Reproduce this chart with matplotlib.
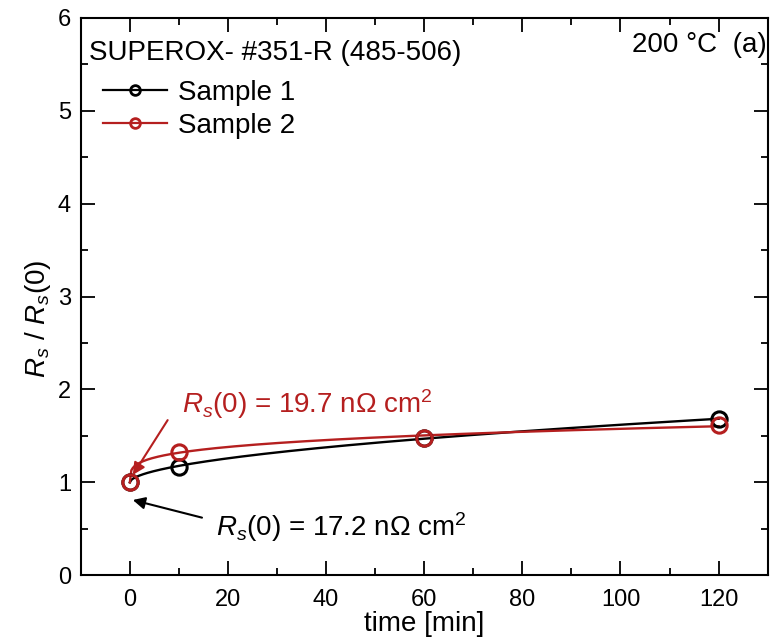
import numpy as np
import matplotlib
matplotlib.use("Agg")
import matplotlib.pyplot as plt
from matplotlib.ticker import MultipleLocator

# measured points: time [min] vs normalised surface resistance
time_min = [0, 10, 60, 120]
sample1 = [1.00, 1.17, 1.48, 1.68]
sample2 = [1.00, 1.33, 1.48, 1.62]

RED = "#b51f1f"

plt.rcParams['font.family'] = ['Liberation Sans', 'DejaVu Sans']
plt.rcParams['mathtext.fontset'] = 'custom'
plt.rcParams['mathtext.rm'] = 'Liberation Sans'
plt.rcParams['mathtext.it'] = 'Liberation Sans:italic'


def power_fit(t, y):
    """Least-squares fit of y = 1 + a * t**b, scanning the exponent b."""
    t = np.asarray(t, float)
    y = np.asarray(y, float) - 1
    best = None
    for b in np.linspace(0.05, 1.0, 400):
        tb = t ** b
        a = np.sum(tb * y) / np.sum(tb * tb)
        err = np.sum((a * tb - y) ** 2)
        if best is None or err < best[0]:
            best = (err, a, b)
    _, a, b = best
    tt = np.linspace(0, t.max(), 400)
    return tt, 1 + a * tt ** b


fig = plt.figure(figsize=(7.77, 6.42), dpi=100)
ax = fig.add_axes([0.104, 0.104, 0.884, 0.868])

for y, col, lab in [(sample1, "black", "Sample 1"), (sample2, RED, "Sample 2")]:
    tt, yy = power_fit(time_min, y)
    ax.plot(tt, yy, color=col, lw=1.7, zorder=2)
    ax.plot(time_min, y, "o", mfc="none", mec=col, mew=2.2, ms=11, zorder=3)
    # legend handle: line with open circle
    ax.plot([], [], "-o", color=col, mfc="none", mec=col, mew=2, ms=7, lw=1.6, label=lab)

ax.set_xlim(-10, 130)
ax.set_ylim(0, 6)
ax.xaxis.set_major_locator(MultipleLocator(20))
ax.xaxis.set_minor_locator(MultipleLocator(10))
ax.yaxis.set_major_locator(MultipleLocator(1))
ax.yaxis.set_minor_locator(MultipleLocator(0.5))
ax.tick_params(which="both", direction="in", top=True, right=True, width=1.3, labelsize=17)
ax.tick_params(which="major", length=10)
ax.tick_params(which="minor", length=5)
ax.tick_params(axis="x", which="major", pad=10)
ax.tick_params(axis="y", which="major", pad=7)
for s in ax.spines.values():
    s.set_linewidth(1.5)

ax.set_xlabel("time [min]", fontsize=20, labelpad=0)
ax.set_ylabel(r"$R_s$ / $R_s$(0)", fontsize=20)
ax.yaxis.set_label_coords(-0.04, 0.46)

ax.text(0.012, 0.96, "SUPEROX- #351-R (485-506)", transform=ax.transAxes,
        fontsize=20, va="top", ha="left")
ax.text(0.998, 0.975, "200 °C  (a)", transform=ax.transAxes,
        fontsize=20, va="top", ha="right")

ax.legend(loc="upper left", bbox_to_anchor=(0.0, 0.929), frameon=False,
          fontsize=20, handlelength=2.3, handletextpad=0.4,
          labelspacing=0.25, borderaxespad=0.4)

# R_s(0) labels with arrows pointing at the t = 0 point
ax.text(10.7, 1.84, r"$R_s$(0) = 19.7 n$\Omega$ cm$^2$", color=RED,
        fontsize=20, va="center", ha="left")
ax.annotate("", xy=(0.6, 1.08), xytext=(7.7, 1.67),
            arrowprops=dict(arrowstyle="-|>", color=RED, lw=1.5,
                            mutation_scale=18, shrinkA=0, shrinkB=0))
ax.text(17.5, 0.52, r"$R_s$(0) = 17.2 n$\Omega$ cm$^2$", color="black",
        fontsize=20, va="center", ha="left")
ax.annotate("", xy=(0.6, 0.81), xytext=(14.7, 0.62),
            arrowprops=dict(arrowstyle="-|>", color="black", lw=1.5,
                            mutation_scale=18, shrinkA=0, shrinkB=0))

fig.savefig("out.png", dpi=100)
